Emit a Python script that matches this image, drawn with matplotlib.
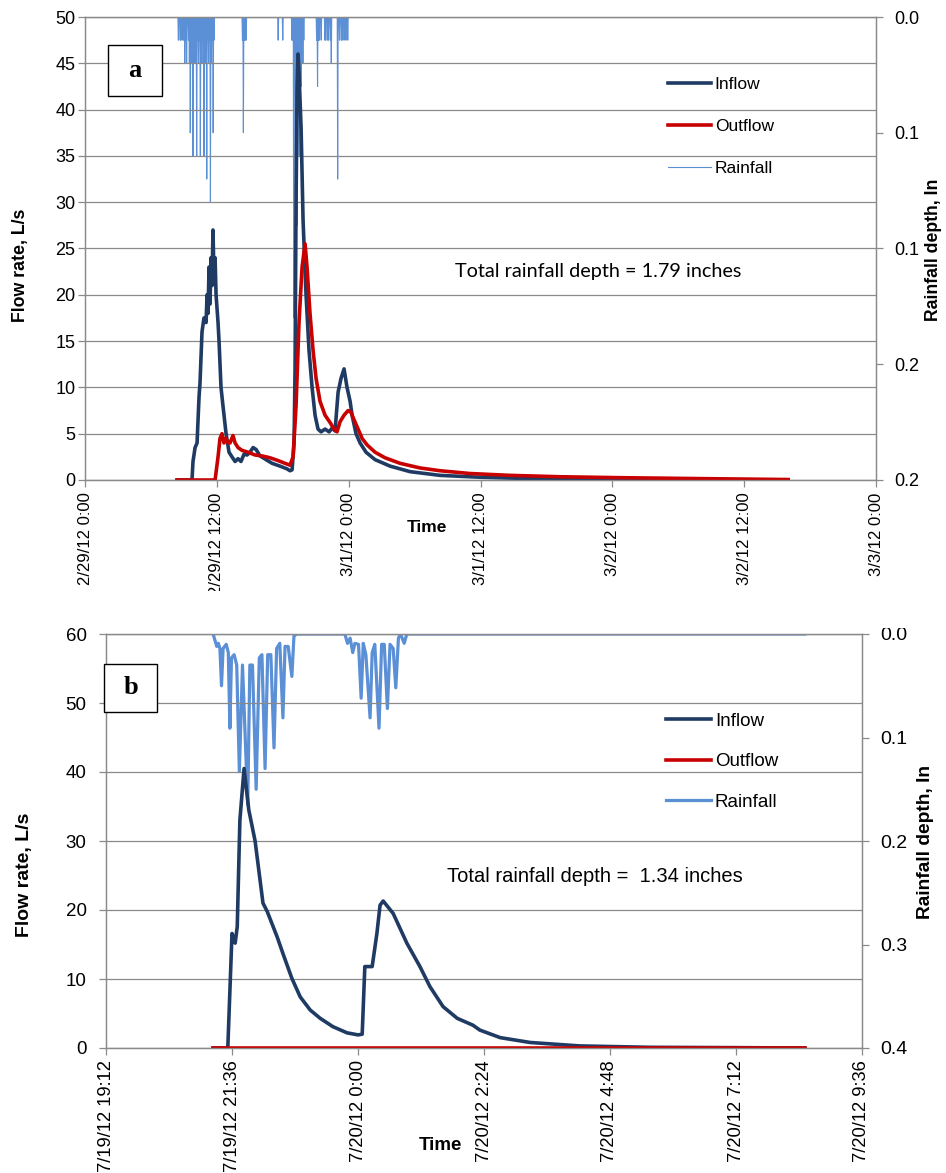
import numpy as np
import matplotlib
matplotlib.use("Agg")
import matplotlib.pyplot as plt
from matplotlib.patches import Rectangle
from matplotlib.lines import Line2D

plt.rcParams['font.family'] = ['Liberation Sans', 'DejaVu Sans']

W, H = 946, 1173

# ---- panel a : hours after 2/29/12 0:00 ----
in_a_t = [8.38, 9.74, 9.83, 10.02, 10.20, 10.38, 10.47, 10.65, 10.83, 11.02, 11.11, 11.20,
          11.29, 11.38, 11.47, 11.56, 11.65, 11.74, 11.84, 11.93, 12.11, 12.20, 12.38, 12.56,
          12.84, 13.11, 13.38, 13.66, 13.93, 14.20, 14.48, 14.75, 15.02, 15.30, 15.57, 15.93,
          16.48, 17.03, 17.75, 18.39, 18.66, 18.85, 19.03, 19.12, 19.21, 19.30, 19.39, 19.48,
          19.67, 19.85, 20.12, 20.39, 20.67, 20.94, 21.21, 21.49, 21.85, 22.22, 22.49, 22.76,
          23.04, 23.31, 23.58, 23.85, 24.13, 24.31, 24.67, 25.04, 25.58, 26.40, 27.77, 29.59,
          32.32, 35.96, 40.52, 46.89, 56.0, 64.0]
in_a_q = [0, 0, 2, 3.5, 4, 9, 10.5, 16, 17.5, 17, 20, 18,
          23, 19, 24, 21, 27, 22, 24, 20, 17, 15, 10, 8,
          5, 3, 2.5, 2, 2.3, 2.0, 2.8, 2.7, 3.0, 3.5, 3.3, 2.6,
          2.2, 1.8, 1.5, 1.2, 1.0, 1.1, 4, 12, 30, 42, 46, 44,
          38, 28, 20, 14, 10, 7, 5.5, 5.2, 5.5, 5.2, 5.6, 5.3,
          9.5, 11, 12, 10, 8.5, 7, 5, 4, 3, 2.2, 1.5, 0.9,
          0.5, 0.3, 0.15, 0.07, 0.03, 0.0]

out_a_t = [8.38, 11.84, 12.11, 12.29, 12.47, 12.65, 12.84, 13.02, 13.20, 13.47, 13.66, 13.93,
           14.29, 14.84, 15.48, 16.12, 16.84, 17.57, 18.21, 18.66, 18.94, 19.21, 19.48, 19.76,
           20.03, 20.21, 20.48, 20.76, 21.03, 21.39, 21.85, 22.31, 22.67, 22.94, 23.22, 23.58,
           23.95, 24.22, 24.49, 24.86, 25.22, 25.67, 26.40, 27.31, 28.68, 30.50, 32.32, 35.05,
           38.70, 43.25, 48.71, 56.0, 64.0]
out_a_q = [0, 0, 2.5, 4.5, 5, 4, 4.5, 4, 4, 4.8, 4, 3.5,
           3.2, 3.0, 2.7, 2.6, 2.4, 2.1, 1.8, 1.6, 2.5, 8, 17, 23,
           25.5, 23, 18, 14, 11, 8.5, 7, 6.2, 5.5, 5.2, 6.3, 7,
           7.5, 7.3, 6.5, 5.5, 4.5, 3.8, 3.0, 2.4, 1.8, 1.3, 1.0, 0.7,
           0.5, 0.35, 0.25, 0.15, 0.05]

# 5-minute rain gauge readings (in) for the wet windows
rain_a_starts = [8.5, 14.25, 17.5]
rain_a_depths = [
    [0.01, 0.0, 0.01, 0.01, 0.0, 0.01, 0.01, 0.02, 0.01, 0.02, 0.0, 0.01, 0.02, 0.05,
     0.01, 0.02, 0.06, 0.01, 0.02, 0.01, 0.06, 0.01, 0.02, 0.01, 0.06, 0.02, 0.01, 0.02,
     0.06, 0.01, 0.02, 0.07, 0.01, 0.02, 0.01, 0.08, 0.02, 0.01, 0.05, 0.01, 0.0],
    [0.0, 0.01, 0.05, 0.01, 0.01, 0.01, 0.0],
    [0.0, 0.01, 0.0, 0.0, 0.0, 0.0, 0.01, 0.0, 0.0, 0.0, 0.0, 0.0, 0.0, 0.0, 0.0, 0.0,
     0.01, 0.01, 0.13, 0.02, 0.11, 0.03, 0.09, 0.02, 0.06, 0.01, 0.03, 0.01, 0.02, 0.01,
     0.0, 0.0, 0.0, 0.0, 0.0, 0.0, 0.0, 0.0, 0.0, 0.0, 0.0, 0.0, 0.0,
     0.01, 0.03, 0.01, 0.01, 0.0, 0.01, 0.0, 0.0, 0.0, 0.01, 0.01, 0.0, 0.01, 0.01, 0.0,
     0.01, 0.02, 0.0, 0.0, 0.0, 0.0, 0.0, 0.0, 0.07, 0.0, 0.01, 0.0, 0.01, 0.01, 0.0,
     0.01, 0.0, 0.01, 0.0, 0.01, 0.0],
]
rain_a_span = [8.4, 64.0]
xlabels_a = ["2/29/12 0:00", "2/29/12 12:00", "3/1/12 0:00", "3/1/12 12:00",
             "3/2/12 0:00", "3/2/12 12:00", "3/3/12 0:00"]

# ---- panel b : hours after 7/19/12 0:00 ----
in_b_t = [21.24, 21.52, 21.60, 21.66, 21.70, 21.75, 21.83, 21.92, 22.04, 22.19, 22.27,
          22.46, 22.57, 22.74, 22.90, 23.09, 23.28, 23.52, 23.79, 24.00, 24.08, 24.13,
          24.27, 24.36, 24.42, 24.48, 24.67, 24.93, 25.18, 25.37, 25.62, 25.89, 26.19,
          26.32, 26.71, 27.28, 28.23, 29.56, 31.20, 32.51]
in_b_q = [0, 0, 16.6, 15.2, 17.6, 33, 40.5, 34.5, 30, 21, 19.8,
          16.1, 13.7, 10.1, 7.4, 5.5, 4.3, 3.1, 2.2, 1.9, 2.0, 11.8,
          11.8, 16.6, 20.7, 21.3, 19.5, 15.2, 11.8, 8.9, 6.0, 4.3, 3.3,
          2.6, 1.5, 0.8, 0.3, 0.1, 0.05, 0.0]
out_b_t = [21.24, 32.51]
out_b_q = [0.0, 0.0]
rain_b_t = [21.24, 21.31, 21.34, 21.37, 21.40, 21.43, 21.49, 21.53, 21.56, 21.59, 21.64,
            21.69, 21.74, 21.80, 21.90, 21.94, 21.99, 22.06, 22.12, 22.17, 22.23, 22.28,
            22.34, 22.40, 22.45, 22.51, 22.57, 22.61, 22.67, 22.74, 22.78, 22.83,
            23.75, 23.80, 23.85, 23.90, 23.94, 24.01, 24.06, 24.10, 24.15, 24.23, 24.27,
            24.32, 24.40, 24.45, 24.50, 24.56, 24.61, 24.67, 24.72, 24.77, 24.81, 24.88,
            24.93, 32.51]
rain_b_d = [0.0, 0.012, 0.009, 0.014, 0.05, 0.014, 0.01, 0.018, 0.091, 0.023, 0.02,
            0.03, 0.133, 0.03, 0.165, 0.03, 0.03, 0.15, 0.023, 0.02, 0.13, 0.02,
            0.02, 0.11, 0.014, 0.009, 0.081, 0.012, 0.012, 0.041, 0.002, 0.0,
            0.0, 0.009, 0.004, 0.018, 0.009, 0.01, 0.062, 0.009, 0.02, 0.081, 0.018,
            0.01, 0.091, 0.01, 0.01, 0.072, 0.01, 0.014, 0.052, 0.004, 0.0, 0.009,
            0.0, 0.0]
xlabels_b = ["7/19/12 19:12", "7/19/12 21:36", "7/20/12 0:00", "7/20/12 2:24",
             "7/20/12 4:48", "7/20/12 7:12", "7/20/12 9:36"]

C_IN = '#1f3b63'
C_OUT = '#c80000'
C_RAIN = '#5b8fd6'
GRAY = '#8a8a8a'


def frac(l, t, r, b):
    return [l / W, 1 - b / H, (r - l) / W, (b - t) / H]


def style(ax, ax2, xfs, yfs, rfs, lpad):
    for a in (ax, ax2):
        for s in a.spines.values():
            s.set_color(GRAY)
            s.set_linewidth(0.9)
        a.tick_params(colors=GRAY, labelcolor='black', length=5, width=0.9)
    ax.tick_params(axis='x', labelsize=xfs, pad=4)
    ax.tick_params(axis='y', labelsize=yfs, pad=lpad)
    ax2.tick_params(axis='y', labelsize=rfs, pad=8)
    ax.yaxis.grid(True, color=GRAY, lw=0.9)
    ax.set_axisbelow(True)
    ax.set_zorder(ax2.get_zorder() + 1)
    ax.patch.set_visible(False)


fig = plt.figure(figsize=(W / 100, H / 100), dpi=100)

# panel a
ax = fig.add_axes(frac(85, 17, 876, 480))
ax2 = ax.twinx()
# each gauge reading drawn as a spike up from zero
rain_a_t = [rain_a_span[0]]
rain_a_d = [0.0]
for st, vals in zip(rain_a_starts, rain_a_depths):
    for k, d in enumerate(vals):
        t = st + k / 12.0
        rain_a_t += [t - 1 / 24.0, t]
        rain_a_d += [0.0, d]
rain_a_t.append(rain_a_span[1])
rain_a_d.append(0.0)
ax2.plot(rain_a_t, rain_a_d, color=C_RAIN, lw=0.8)
ax.plot(in_a_t, in_a_q, color=C_IN, lw=2.6)
ax.plot(out_a_t, out_a_q, color=C_OUT, lw=2.6)
ax.set_xlim(0, 72)
ax.set_ylim(0, 50)
ax.set_yticks(range(0, 51, 5))
ax.set_xticks(range(0, 73, 12))
ax.set_xticklabels(xlabels_a, rotation=90, va='top', ha='center')
ax2.set_ylim(0.2, 0)
ax2.set_yticks([0, 0.05, 0.1, 0.15, 0.2])
ax2.set_yticklabels(['0.0', '0.1', '0.1', '0.2', '0.2'])
style(ax, ax2, 12, 13, 13, 2)
hs = [Line2D([], [], color=C_IN, lw=2.6), Line2D([], [], color=C_OUT, lw=2.6),
      Line2D([], [], color=C_RAIN, lw=0.8)]
ax.legend(hs, ['Inflow', 'Outflow', 'Rainfall'], loc='upper left',
          bbox_to_anchor=(0.737, 0.871), frameon=False, fontsize=12.5,
          labelspacing=1.55, handlelength=2.5, handletextpad=0.2, borderpad=0,
          borderaxespad=0)
fig.text(598 / W, 1 - 272 / H, 'Total rainfall depth = 1.79 inches', family='Lato',
         fontsize=14.3, ha='center', va='center')
fig.text(20 / W, 1 - 265 / H, 'Flow rate, L/s', rotation=90, fontsize=12.8,
         fontweight='bold', ha='center', va='center')
fig.text(933 / W, 1 - 250 / H, 'Rainfall depth, In', rotation=90, fontsize=12.7,
         fontweight='bold', ha='center', va='center')
fig.text(427 / W, 1 - 528 / H, 'Time', fontsize=12.5, fontweight='bold',
         ha='center', va='center')

# panel b
bx = fig.add_axes(frac(106, 634, 862, 1048))
bx2 = bx.twinx()
bx2.plot(rain_b_t, rain_b_d, color=C_RAIN, lw=2.3)
bx.plot(in_b_t, in_b_q, color=C_IN, lw=2.6)
bx.plot(out_b_t, out_b_q, color=C_OUT, lw=2.6)
bx.set_xlim(19.2, 33.6)
bx.set_ylim(0, 60)
bx.set_yticks(range(0, 61, 10))
bx.set_xticks(19.2 + 2.4 * np.arange(7))
bx.set_xticklabels(xlabels_b, rotation=90, va='top', ha='center')
bx2.set_ylim(0.4, 0)
bx2.set_yticks([0, 0.1, 0.2, 0.3, 0.4])
bx2.set_yticklabels(['0.0', '0.1', '0.2', '0.3', '0.4'])
style(bx, bx2, 13.2, 13.5, 14, 9)
hs = [Line2D([], [], color=C_IN, lw=2.6), Line2D([], [], color=C_OUT, lw=2.6),
      Line2D([], [], color=C_RAIN, lw=2.3)]
bx.legend(hs, ['Inflow', 'Outflow', 'Rainfall'], loc='upper left',
          bbox_to_anchor=(0.741, 0.810), frameon=False, fontsize=13.5,
          labelspacing=1.24, handlelength=2.4, handletextpad=0.2, borderpad=0,
          borderaxespad=0)
fig.text(595 / W, 1 - 877 / H, 'Total rainfall depth =  1.34 inches',
         fontsize=14.5, ha='center', va='center')
fig.text(25 / W, 1 - 875 / H, 'Flow rate, L/s', rotation=90, fontsize=14,
         fontweight='bold', ha='center', va='center')
fig.text(925 / W, 1 - 842 / H, 'Rainfall depth, In', rotation=90, fontsize=13.8,
         fontweight='bold', ha='center', va='center')
fig.text(440 / W, 1 - 1145 / H, 'Time', fontsize=13.5, fontweight='bold',
         ha='center', va='center')

# panel letters
for (l, t, r, b), letter in [((108, 45, 162, 96), 'a'), ((104, 664, 157, 712), 'b')]:
    x0, y0, w, h = frac(l, t, r, b)
    fig.add_artist(Rectangle((x0, y0), w, h, transform=fig.transFigure,
                             fc='white', ec='black', lw=1.0, zorder=4))
    fig.text(x0 + w / 2, y0 + h / 2, letter, family='Liberation Serif',
             fontweight='bold', fontsize=19, ha='center', va='center', zorder=5)

# the source crops the top panel's date labels
fig.add_artist(Rectangle((0, 1 - 628 / H), 1, (628 - 591) / H,
                         transform=fig.transFigure, fc='white', ec='none', zorder=6))

fig.savefig('out.png', dpi=100)
